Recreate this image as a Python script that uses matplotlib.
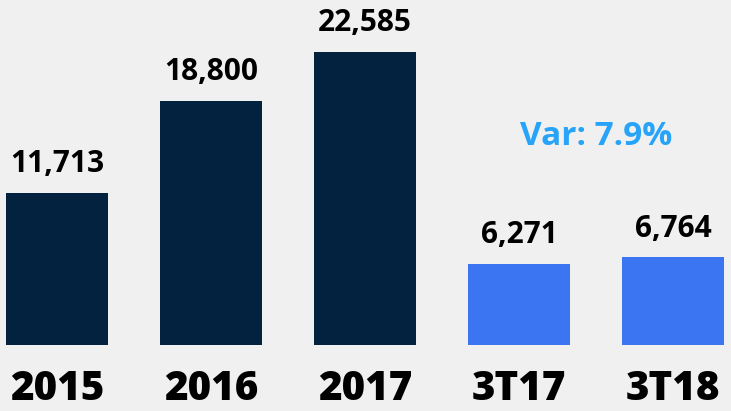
import matplotlib
matplotlib.use("Agg")
import matplotlib.pyplot as plt

categories = ["2015", "2016", "2017", "3T17", "3T18"]
values = [11713, 18800, 22585, 6271, 6764]
value_labels = ["11,713", "18,800", "22,585", "6,271", "6,764"]
colors = ["#03223F", "#03223F", "#03223F", "#3B75F2", "#3B75F2"]
note = "Var: 7.9%"

plt.rcParams['font.family'] = ['Open Sans', 'DejaVu Sans']

fig = plt.figure(figsize=(7.31, 4.11), dpi=100, facecolor="#F0F0F0")
ax = fig.add_axes([0, 0, 1, 1])
ax.set_facecolor("#F0F0F0")

x = list(range(len(categories)))
ax.bar(x, values, width=0.662, color=colors)

for i, v in enumerate(values):
    ax.text(i, v + 1050, value_labels[i], ha="center", va="bottom",
            fontsize=21.5, fontweight="bold", color="black")
    ax.text(i, -3450, categories[i], ha="center", va="center",
            fontsize=29, fontweight=800, color="black")

ax.text(3.5, 16100, note, ha="center", va="center", fontsize=24,
        fontweight="bold", color="#27A4F8")

ax.set_xlim(-0.370, 4.377)
ax.set_ylim(-5088, 26594)
ax.axis("off")

fig.savefig("out.png", dpi=100, facecolor=fig.get_facecolor())
